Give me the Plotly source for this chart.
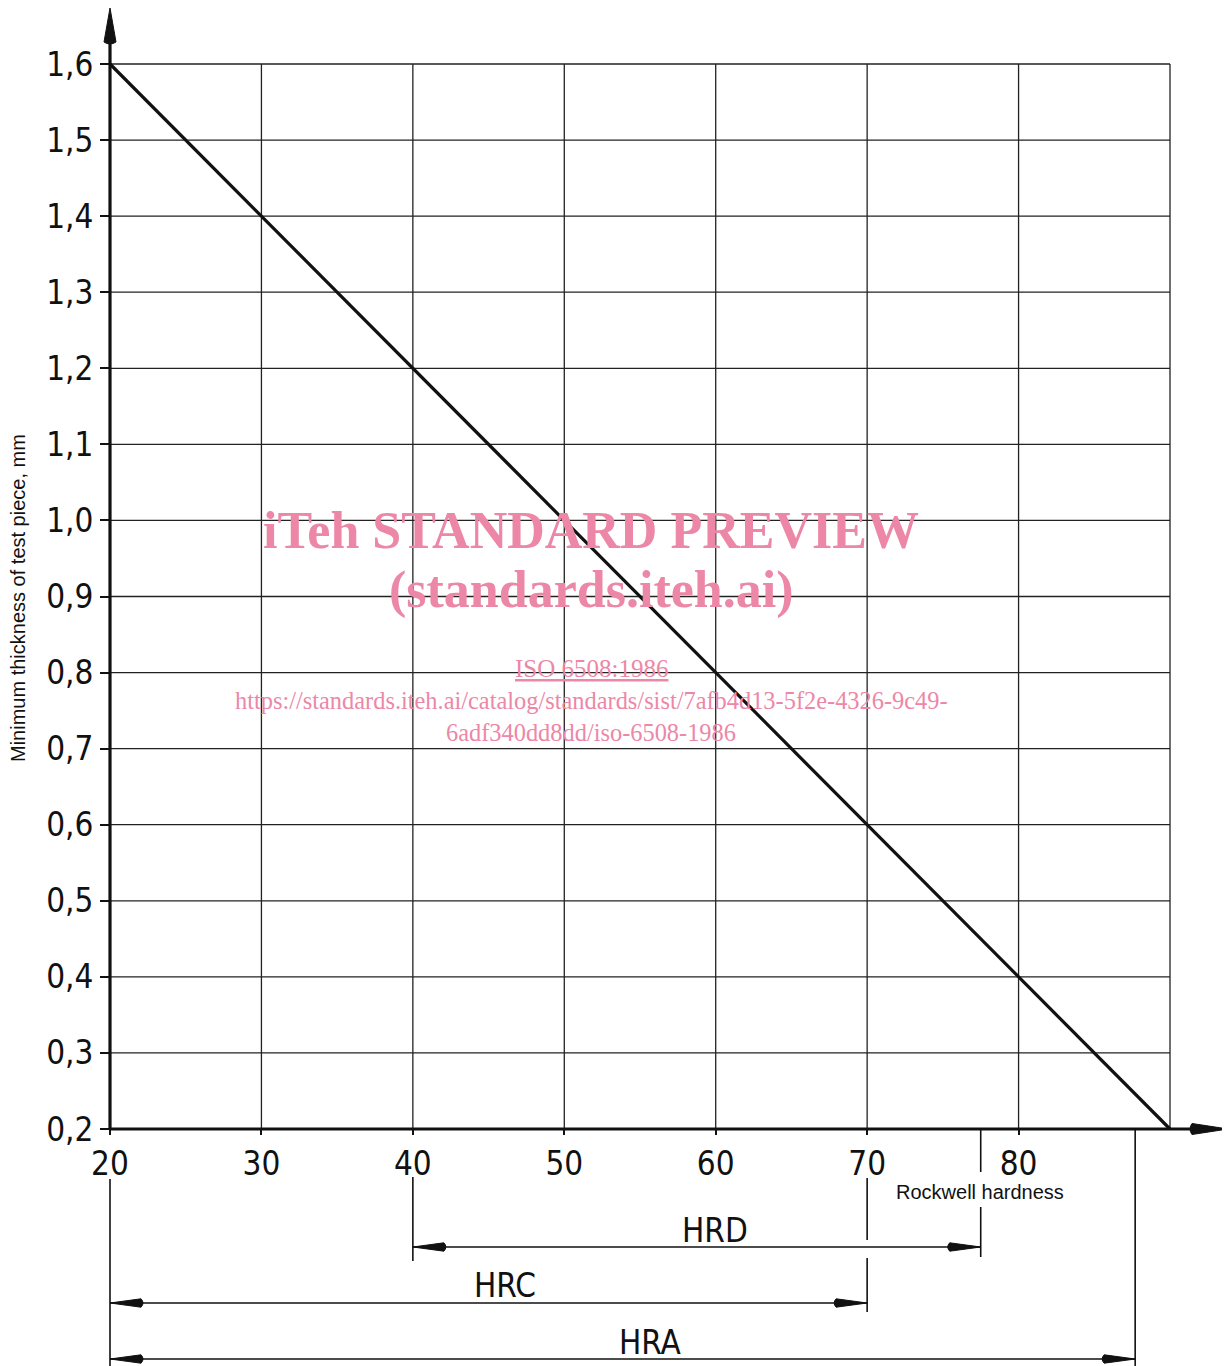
import plotly.graph_objects as go

# ---------------- data ----------------
hardness = [20, 90]                 # Rockwell hardness
thickness = [1.6, 0.2]              # minimum thickness of test piece, mm
x_ticks = [20, 30, 40, 50, 60, 70, 80]
x_ticktext = ["20", "30", "40", "50", "60", "70", "80"]
x_grid = [20, 30, 40, 50, 60, 70, 80, 90]
y_ticks = [0.2, 0.3, 0.4, 0.5, 0.6, 0.7, 0.8, 0.9, 1.0, 1.1, 1.2, 1.3, 1.4, 1.5, 1.6]
y_ticktext = ["0,2", "0,3", "0,4", "0,5", "0,6", "0,7", "0,8", "0,9", "1,0",
              "1,1", "1,2", "1,3", "1,4", "1,5", "1,6"]
scale_names = ["HRD", "HRC", "HRA"]
scale_min = [40, 20, 20]
scale_max = [77.5, 70, 87.7]

# ---------------- layout geometry (page pixels) ----------------
PAGE_W, PAGE_H = 1230, 1366
OFF = 8                              # default body margin of the html page
W, H = PAGE_W - OFF, PAGE_H - OFF    # figure size
X20_PX, X90_PX = 110, 1170
Y02_PX, Y16_PX = 1129, 64
KX = (X90_PX - X20_PX) / (90 - 20)
KY = (Y02_PX - Y16_PX) / (1.6 - 0.2)


def xd(px):
    return 20 + (px - X20_PX) / KX


def yd(py):
    return 0.2 + (Y02_PX - py) / KY


XMIN, XMAX = xd(OFF), xd(OFF + W)
YMIN, YMAX = yd(OFF + H), yd(OFF)

BLACK = "#111111"
PINK = "#ec87a8"
TECH = "Liberation Sans Narrow, DejaVu Sans Condensed, Arial Narrow, sans-serif"
TECH_SIZE = 33

fig = go.Figure()
shapes = []
annotations = []

# grid
for x in x_grid:
    shapes.append(dict(type="line", xref="x", yref="y", x0=x, x1=x, y0=y_ticks[0], y1=y_ticks[-1],
                       line=dict(color="#222222", width=1.3), layer="below"))
for y in y_ticks:
    shapes.append(dict(type="line", xref="x", yref="y", x0=x_grid[0], x1=x_grid[-1], y0=y, y1=y,
                       line=dict(color="#222222", width=1.3), layer="below"))


def arrow_path(xt, yt, direction, length_px, half_px):
    """Filled arrowhead path with the tip at (xt, yt)."""
    bulge = 4
    if direction in ("left", "right"):
        s = 1 if direction == "left" else -1
        xb = xt + s * length_px / KX
        xq = xt + s * (length_px + bulge) / KX
        h = half_px / KY
        return f"M {xt},{yt} L {xb},{yt + h} Q {xq},{yt} {xb},{yt - h} Z"
    else:
        s = -1 if direction == "up" else 1
        yb = yt + s * length_px / KY
        yq = yt + s * (length_px + bulge) / KY
        w = half_px / KX
        return f"M {xt},{yt} L {xt + w},{yb} Q {xt},{yq} {xt - w},{yb} Z"


# axis lines with arrows
shapes.append(dict(type="line", xref="x", yref="y", x0=20, x1=20, y0=0.2, y1=yd(30),
                   line=dict(color=BLACK, width=3.2)))
shapes.append(dict(type="path", xref="x", yref="y", path=arrow_path(20, yd(8), "up", 34, 6),
                   fillcolor=BLACK, line=dict(color=BLACK, width=1)))
shapes.append(dict(type="line", xref="x", yref="y", x0=20, x1=xd(1200), y0=0.2, y1=0.2,
                   line=dict(color=BLACK, width=3.2)))
shapes.append(dict(type="path", xref="x", yref="y", path=arrow_path(xd(1228), 0.2, "right", 36, 5.5),
                   fillcolor=BLACK, line=dict(color=BLACK, width=1)))

# extension lines below the axis (x positions taken from the scale ranges)
hrd_lo, hrc_lo, hrd_hi, hrc_hi, hra_hi = scale_min[0], scale_min[1], scale_max[0], scale_max[1], scale_max[2]
ext = [
    (hrc_lo, 1179, 1366),
    (hrd_lo, 1177, 1261),
    (hrc_hi, 1178, 1240), (hrc_hi, 1258, 1312),
    (hrd_hi, 1129, 1172), (hrd_hi, 1207, 1257),
    (hra_hi, 1129, 1366),
]
for x, p0, p1 in ext:
    shapes.append(dict(type="line", xref="x", yref="y", x0=x, x1=x, y0=yd(p0), y1=yd(p1),
                       line=dict(color=BLACK, width=1.6)))

# dimension lines
dim_py = [1247, 1303, 1359]
label_px = [(715, 1230), (505, 1285), (650, 1342)]
for name, a, b, py, (lx, ly) in zip(scale_names, scale_min, scale_max, dim_py, label_px):
    y = yd(py)
    shapes.append(dict(type="line", xref="x", yref="y", x0=a, x1=b, y0=y, y1=y,
                       line=dict(color=BLACK, width=1.4)))
    shapes.append(dict(type="path", xref="x", yref="y", path=arrow_path(a, y, "left", 31, 4.2),
                       fillcolor=BLACK, line=dict(color=BLACK, width=1)))
    shapes.append(dict(type="path", xref="x", yref="y", path=arrow_path(b, y, "right", 31, 4.2),
                       fillcolor=BLACK, line=dict(color=BLACK, width=1)))
    annotations.append(dict(x=xd(lx), y=yd(ly), xref="x", yref="y", text=name, showarrow=False,
                            borderpad=0,
                            font=dict(family=TECH, size=TECH_SIZE, color=BLACK)))

# main curve
fig.add_trace(go.Scatter(x=hardness, y=thickness, mode="lines",
                         line=dict(color=BLACK, width=3.2), hoverinfo="skip", showlegend=False))

# axis titles
annotations.append(dict(x=xd(980), y=yd(1192), xref="x", yref="y", text="Rockwell hardness",
                        showarrow=False, font=dict(family="Liberation Sans, Arial, sans-serif",
                                                   size=20, color=BLACK)))
annotations.append(dict(x=xd(18), y=yd(598), xref="x", yref="y",
                        text="Minimum thickness of test piece, mm", textangle=-90,
                        showarrow=False, font=dict(family="Liberation Sans, Arial, sans-serif",
                                                   size=20, color=BLACK)))

# watermark
wm = [
    ("<b>iTeh STANDARD PREVIEW</b>", 530, 52),
    ("<b>(standards.iteh.ai)</b>", 590, 52),
    ("<u>ISO 6508:1986</u>", 668, 25),
    ("https://standards.iteh.ai/catalog/standards/sist/7afb4d13-5f2e-4326-9c49-", 700, 24.4),
    ("6adf340dd8dd/iso-6508-1986", 732, 24.4),
]
for text, py, size in wm:
    annotations.append(dict(x=xd(591), y=yd(py), xref="x", yref="y", text=text, showarrow=False,
                            font=dict(family="Liberation Serif, Times New Roman, serif",
                                      size=size, color=PINK)))

fig.update_layout(
    width=W, height=H,
    margin=dict(l=0, r=0, t=0, b=0),
    paper_bgcolor="white", plot_bgcolor="white",
    shapes=shapes, annotations=annotations,
    xaxis=dict(range=[XMIN, XMAX], showgrid=False, zeroline=False, showline=False,
               tickvals=x_ticks, ticktext=x_ticktext, ticks="outside", ticklen=5,
               tickwidth=1.5, tickcolor=BLACK, anchor="free",
               position=(OFF + H - Y02_PX) / H,
               tickfont=dict(family=TECH, size=TECH_SIZE, color=BLACK)),
    yaxis=dict(range=[YMIN, YMAX], showgrid=False, zeroline=False, showline=False,
               tickvals=y_ticks, ticktext=y_ticktext, ticks="outside", ticklen=10,
               tickwidth=1.5, tickcolor=BLACK, anchor="free",
               position=(X20_PX - OFF) / W,
               tickfont=dict(family=TECH, size=TECH_SIZE, color=BLACK)),
)

fig.write_html("out.html")
